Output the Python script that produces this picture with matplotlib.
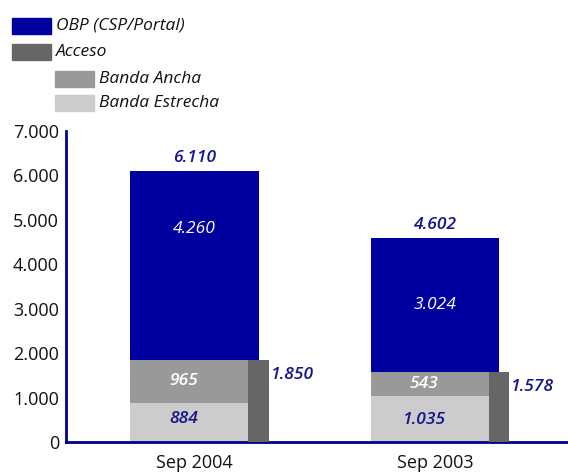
import matplotlib
matplotlib.use("Agg")
import matplotlib.pyplot as plt
from matplotlib.patches import Rectangle

# Data
categories = ["Sep 2004", "Sep 2003"]
banda_estrecha = [884, 1035]
banda_ancha = [965, 543]
obp = [4260, 3024]
acceso = [1850, 1578]
totals = [6110, 4602]
yticks = [0, 1000, 2000, 3000, 4000, 5000, 6000, 7000]
ytick_labels = ["0", "1.000", "2.000", "3.000", "4.000", "5.000", "6.000", "7.000"]
legend_labels = ["OBP (CSP/Portal)", "Acceso", "Banda Ancha", "Banda Estrecha"]

def fmt(v):
    return f"{v:,}".replace(",", ".")

C_OBP = "#0000A0"
C_ACC = "#666666"
C_ANCHA = "#999999"
C_ESTR = "#CCCCCC"
NAVY = "#15158A"
FONT = ["Open Sans", "DejaVu Sans"]
plt.rcParams["font.family"] = FONT

W, H = 568, 474
fig = plt.figure(figsize=(W / 100, H / 100), dpi=100)
ax = fig.add_axes([66 / W, 1 - 442 / H, (568 - 66) / W, (442 - 131) / H])

x = [0, 1]
bw = 0.536
ax.bar(x, banda_estrecha, width=bw, color=C_ESTR, zorder=2)
ax.bar(x, banda_ancha, width=bw, bottom=banda_estrecha, color=C_ANCHA, zorder=2)
base = [a + b for a, b in zip(banda_estrecha, banda_ancha)]
ax.bar(x, obp, width=bw, bottom=base, color=C_OBP, zorder=2)
acc_x = [xi + 0.266 for xi in x]
ax.bar(acc_x, acceso, width=0.087, color=C_ACC, zorder=3)

ax.set_xlim(-0.534, 1.553)
ax.set_ylim(0, 7000)
ax.set_yticks(yticks)
ax.set_yticklabels(ytick_labels, fontsize=13, color="#111111")
ax.set_xticks(x)
ax.set_xticklabels(categories, fontsize=13, color="#111111")
ax.tick_params(axis="x", length=0, pad=9)
ax.tick_params(axis="y", length=0, pad=5)
for s in ["top", "right"]:
    ax.spines[s].set_visible(False)
for s in ["left", "bottom"]:
    ax.spines[s].set_color("#00008B")
    ax.spines[s].set_linewidth(2)

tkw = dict(ha="center", va="center", fontsize=12.5, style="italic")
obp_label_y = [4800, None]
for i in range(2):
    ax.text(x[i] - 0.045, banda_estrecha[i] / 2 + (80 if i == 0 else -20), fmt(banda_estrecha[i]),
            color=NAVY, fontweight="semibold", **tkw, zorder=5)
    ax.text(x[i] - 0.045, banda_estrecha[i] + banda_ancha[i] / 2, fmt(banda_ancha[i]),
            color="white", fontweight="semibold", **tkw, zorder=5)
    yy = obp_label_y[i] if obp_label_y[i] is not None else base[i] + obp[i] / 2
    ax.text(x[i], yy, fmt(obp[i]), color="white", **tkw, zorder=5)
    ax.annotate(fmt(totals[i]), (x[i], totals[i]), xytext=(0, 9), textcoords="offset points",
                ha="center", va="center", fontsize=12.5, style="italic", fontweight="semibold",
                color=NAVY)
    ax.text(acc_x[i] + 0.05, acceso[i] - 340, fmt(acceso[i]),
            ha="left", va="center", fontsize=12.5, style="italic", fontweight="semibold",
            color=NAVY)

# Legend (manual)
leg = [
    (12, 18, C_OBP, legend_labels[0]),
    (12, 44, C_ACC, legend_labels[1]),
    (55, 71, C_ANCHA, legend_labels[2]),
    (55, 95, C_ESTR, legend_labels[3]),
]
for lx, ly, c, lab in leg:
    fig.patches.append(Rectangle((lx / W, 1 - (ly + 16) / H), 39 / W, 16 / H,
                                 transform=fig.transFigure, color=c))
    fig.text((lx + 44) / W, 1 - (ly + 8) / H, lab, ha="left", va="center",
             fontsize=12.5, style="italic", color="#111111")

fig.savefig("out.png", dpi=100)
